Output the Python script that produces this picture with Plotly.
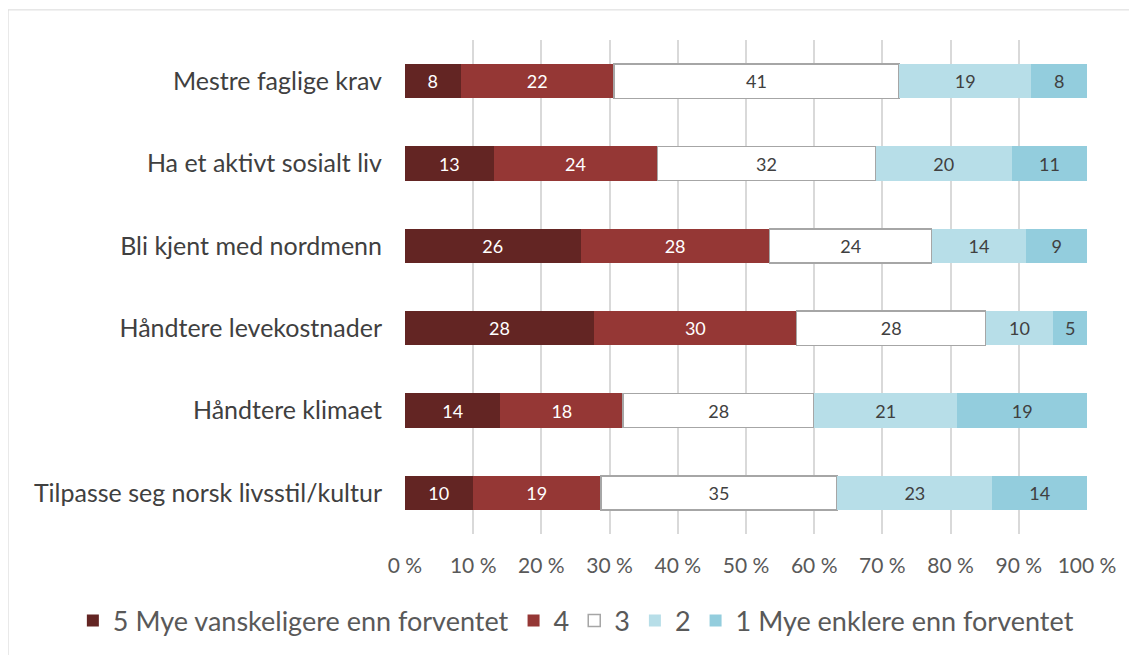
import plotly.graph_objects as go

categories = ["Mestre faglige krav", "Ha et aktivt sosialt liv", "Bli kjent med nordmenn",
              "Håndtere levekostnader", "Håndtere klimaet", "Tilpasse seg norsk livsstil/kultur"]

s5 = [8, 13, 26, 28, 14, 10]
s4 = [22, 24, 28, 30, 18, 19]
s3 = [41, 32, 24, 28, 28, 35]
s2 = [19, 20, 14, 10, 21, 23]
s1 = [8, 11, 9, 5, 19, 14]

names = ["5 Mye vanskeligere enn forventet", "4", "3", "2", "1 Mye enklere enn forventet"]
series = [s5, s4, s3, s2, s1]
colors = ["#632523", "#953735", "#ffffff", "#b7dee8", "#93cddd"]
text_colors = ["white", "white", "#404040", "#404040", "#404040"]

FONT = "Lato, sans-serif"

fig = go.Figure()
for name, vals, col, tcol in zip(names, series, colors, text_colors):
    fig.add_trace(go.Bar(
        y=categories, x=vals, name=name, orientation="h",
        marker=dict(color=col,
                    line=dict(color="#a6a6a6" if col == "#ffffff" else col,
                              width=1.5 if col == "#ffffff" else 0)),
        text=[str(v) for v in vals], textposition="inside", insidetextanchor="middle",
        textfont=dict(color=tcol, size=18, family=FONT),
        hoverinfo="x+y+name",
    ))

# page body adds 8px offset, so the figure is 8px smaller each way
fig.update_layout(
    barmode="stack", barnorm="percent", bargap=0.585,
    width=1129, height=647,
    margin=dict(l=397, r=50, t=32, b=121, autoexpand=False),
    paper_bgcolor="white", plot_bgcolor="white",
    font=dict(family=FONT, color="#595959"),
    uniformtext=dict(minsize=10, mode="show"),
    xaxis=dict(range=[0, 100], dtick=10, ticksuffix=" %", showgrid=True,
               gridcolor="#d9d9d9", gridwidth=1.5, zeroline=False,
               tickfont=dict(size=21, color="#595959"), ticks="", ticklabelstandoff=17),
    yaxis=dict(autorange="reversed", showgrid=False, zeroline=False,
               tickfont=dict(size=25, color="#404040"), ticks="", ticklabelstandoff=22),
    legend=dict(orientation="h", x=-0.487, xanchor="left", y=-0.176, yanchor="middle",
                font=dict(size=27, color="#595959"), traceorder="normal",
                itemwidth=30, tracegroupgap=0),
    showlegend=True,
    shapes=[dict(type="rect", xref="paper", yref="paper",
                 x0=-0.582, x1=1.072, y0=-0.3, y1=1.061,
                 line=dict(color="#d9d9d9", width=1), fillcolor="rgba(0,0,0,0)", layer="below")],
)

fig.write_html("out.html")
